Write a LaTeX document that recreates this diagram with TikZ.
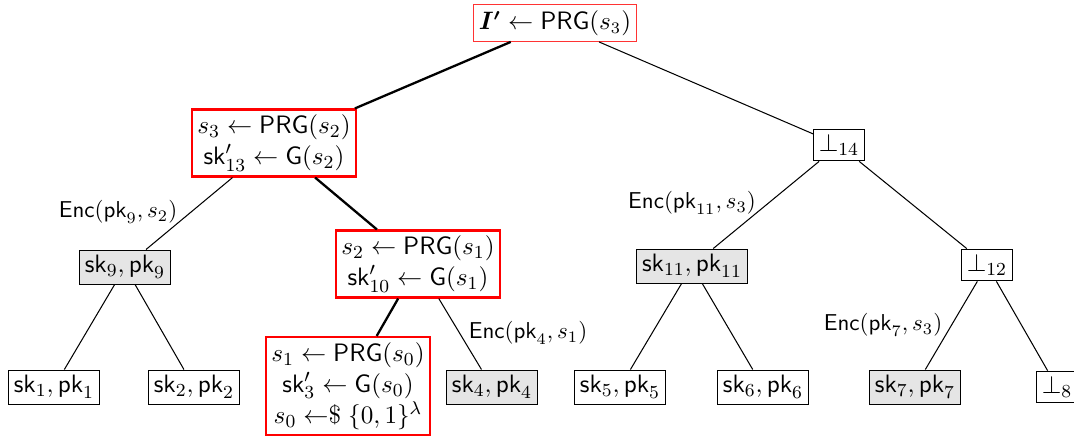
\documentclass[tikz,border=0pt]{standalone}
\usepackage{amsmath,amssymb}
\begin{document}
\begin{tikzpicture}[x=0.435pt,y=-0.435pt,
  leaf/.style={draw,inner sep=2.3pt,font=\fontsize{11.2}{14}\selectfont},
  gleaf/.style={leaf,fill=black!10},
  redbox/.style={draw=red,line width=1pt,align=center,inner sep=2.3pt,font=\fontsize{10.8}{13.5}\selectfont},
  rootbox/.style={draw=red!80,line width=0.5pt,inner sep=2.5pt,font=\fontsize{10.6}{14}\selectfont},
  thinedge/.style={line width=0.45pt},
  thickedge/.style={line width=1pt},
  lab/.style={font=\normalsize,inner sep=1pt}]
\useasboundingbox (0,0) rectangle (1074,438);
\node[rootbox] (root) at (555,23) {$\boldsymbol{I'}\leftarrow\mathsf{PRG}(s_3)$};
\node[redbox] (a) at (274,143) {$s_3\leftarrow\mathsf{PRG}(s_2)$\\$\mathsf{sk}'_{13}\leftarrow\mathsf{G}(s_2)$};
\node[leaf] (b) at (839,145) {$\bot_{14}$};
\node[gleaf] (c) at (125,267) {$\mathsf{sk}_9,\mathsf{pk}_9$};
\node[redbox] (d) at (418,264) {$s_2\leftarrow\mathsf{PRG}(s_1)$\\$\mathsf{sk}'_{10}\leftarrow\mathsf{G}(s_1)$};
\node[gleaf] (e) at (692,266) {$\mathsf{sk}_{11},\mathsf{pk}_{11}$};
\node[leaf] (f) at (987,265) {$\bot_{12}$};
\node[leaf] (g1) at (54,387) {$\mathsf{sk}_1,\mathsf{pk}_1$};
\node[leaf] (g2) at (194,387) {$\mathsf{sk}_2,\mathsf{pk}_2$};
\node[redbox] (g3) at (348,386) {$s_1\leftarrow\mathsf{PRG}(s_0)$\\$\mathsf{sk}'_{3}\leftarrow\mathsf{G}(s_0)$\\$s_0\mathrel{{\leftarrow}\$}\{0,1\}^{\lambda}$};
\node[gleaf] (g4) at (492,387) {$\mathsf{sk}_4,\mathsf{pk}_4$};
\node[leaf] (g5) at (620,387) {$\mathsf{sk}_5,\mathsf{pk}_5$};
\node[leaf] (g6) at (763,387) {$\mathsf{sk}_6,\mathsf{pk}_6$};
\node[gleaf] (g7) at (915,387) {$\mathsf{sk}_7,\mathsf{pk}_7$};
\node[leaf] (g8) at (1057,387) {$\bot_8$};
\draw[thickedge] (root) -- (a);
\draw[thinedge] (root) -- (b);
\draw[thinedge] (a) -- (c);
\draw[thickedge] (a) -- (d);
\draw[thinedge] (b) -- (e);
\draw[thinedge] (b) -- (f);
\draw[thinedge] (c) -- (g1);
\draw[thinedge] (c) -- (g2);
\draw[thickedge] (d) -- (g3);
\draw[thinedge] (d) -- (g4);
\draw[thinedge] (e) -- (g5);
\draw[thinedge] (e) -- (g6);
\draw[thinedge] (f) -- (g7);
\draw[thinedge] (f) -- (g8);
\node[lab] (l1) at (118,212) {$\mathsf{Enc}(\mathsf{pk}_9,s_2)$};
\node[lab] (l2) at (692,203) {$\mathsf{Enc}(\mathsf{pk}_{11},s_3)$};
\node[lab] (l3) at (528,333) {$\mathsf{Enc}(\mathsf{pk}_4,s_1)$};
\node[lab] (l4) at (883,325) {$\mathsf{Enc}(\mathsf{pk}_7,s_3)$};
\end{tikzpicture}
\end{document}
